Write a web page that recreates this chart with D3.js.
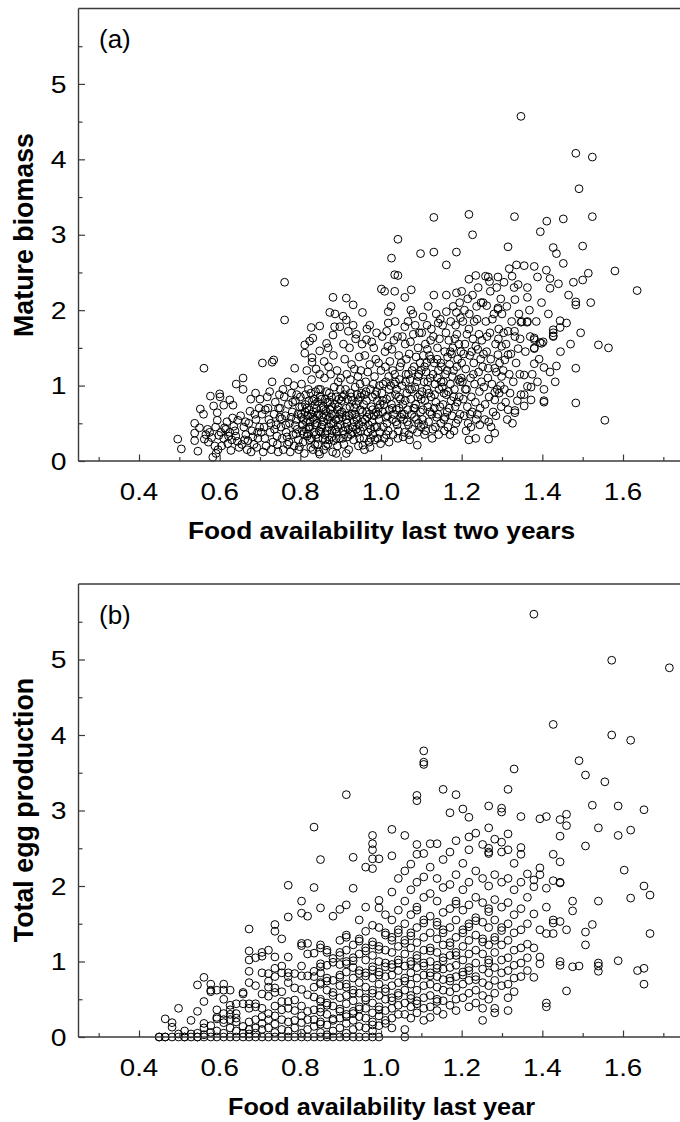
<!DOCTYPE html>
<html><head><meta charset="utf-8">
<script src="https://cdn.jsdelivr.net/npm/d3@7"></script>
<style>body{margin:0;background:#fff}svg{display:block}</style>
</head><body>
<svg id="chart" width="680" height="1122"></svg>
<script>
// ---------- DATA ----------
const xMajorTicks = [0.4, 0.6, 0.8, 1.0, 1.2, 1.4, 1.6];
const xMinorTicks = [0.3, 0.5, 0.7, 0.9, 1.1, 1.3, 1.5, 1.7];
const yMajorTicks = [0, 1, 2, 3, 4, 5];
const yMinorTicks = [0.5, 1.5, 2.5, 3.5, 4.5, 5.5];
const xDomain = [0.25, 1.75];
const yDomain = [0, 6];

const panelLabels = ["(a)", "(b)"];
const xTitles = ["Food availability last two years", "Food availability last year"];
const yTitles = ["Mature biomass", "Total egg production"];

// Panel (a): [food availability last two years, mature biomass]
const biomassPoints = [
[0.496,0.29],[0.505,0.16],[0.538,0.50],[0.538,0.37],[0.538,0.27],[0.546,0.13],[0.552,0.69],[0.550,0.44],[0.562,0.29],
[0.560,0.62],[0.561,1.23],[0.577,0.86],[0.583,0.05],[0.585,0.73],[0.594,0.64],[0.594,0.54],[0.570,0.42],[0.575,0.38],[0.580,0.31],[0.590,0.45],[0.588,0.20],[0.596,0.15],[0.566,0.35],[0.572,0.25],[0.598,0.34],[0.591,0.10],
[0.600,0.89],[0.601,0.85],[0.610,0.74],[0.625,0.81],[0.633,0.74],[0.641,1.02],[0.605,0.20],[0.610,0.30],[0.615,0.42],[0.620,0.23],[0.625,0.38],[0.630,0.28],[0.635,0.46],[0.640,0.33],[0.632,0.57],[0.645,0.54],[0.648,0.18],[0.603,0.38],[0.618,0.52],[0.628,0.14],[0.638,0.40],[0.644,0.26],[0.612,0.44],[0.622,0.33],
[0.658,1.10],[0.658,0.95],[0.689,0.90],[0.662,0.28],[0.670,0.27],[0.678,0.12],[0.652,0.60],[0.660,0.45],[0.665,0.35],[0.672,0.50],[0.675,0.66],[0.680,0.40],[0.685,0.22],[0.690,0.55],[0.695,0.30],[0.698,0.70],[0.655,0.22],[0.668,0.15],[0.682,0.32],[0.692,0.18],[0.699,0.45],[0.687,0.62],[0.677,0.82],[0.664,0.52],[0.694,0.38],
[0.706,1.30],[0.730,1.31],[0.734,1.34],[0.730,1.05],[0.700,0.82],[0.705,0.62],[0.710,0.45],[0.712,0.30],[0.715,0.20],[0.720,0.70],[0.722,0.55],[0.725,0.38],[0.728,0.15],[0.732,0.25],[0.735,0.62],[0.738,0.78],[0.740,0.48],[0.742,0.33],[0.745,0.12],[0.748,0.88],[0.703,0.38],[0.718,0.85],[0.727,0.50],[0.743,0.22],[0.708,0.12],[0.736,0.42],[0.749,0.58],[0.713,0.68],[0.724,0.92],[0.746,0.70],
[0.761,2.37],[0.761,1.87],[0.769,1.05],[0.786,1.23],[0.750,0.70],[0.752,0.45],[0.755,0.30],[0.758,0.15],[0.760,0.85],[0.763,0.60],[0.765,0.38],[0.768,0.22],[0.770,0.75],[0.773,0.50],[0.775,0.12],[0.778,0.90],[0.780,0.65],[0.782,0.35],[0.785,0.20],[0.788,0.80],[0.790,0.55],[0.792,0.42],[0.795,0.28],[0.798,0.72],[0.757,0.95],[0.767,0.32],[0.777,0.58],[0.787,0.47],[0.796,0.15],[0.784,1.00],[0.791,0.88],[0.798,0.19],[0.754,0.56],[0.772,0.25],[0.781,0.78],[0.794,0.62],[0.764,0.48],[0.789,0.36],
[0.811,1.43],[0.811,1.54],[0.823,1.59],[0.831,1.63],[0.827,1.77],[0.848,1.79],[0.848,1.46],[0.829,1.37],[0.829,1.31],[0.800,0.85],[0.802,0.62],[0.805,0.40],[0.807,0.25],[0.810,0.10],[0.812,0.75],[0.815,0.52],[0.817,0.33],[0.820,0.95],[0.822,0.68],[0.824,0.45],[0.826,0.18],[0.828,1.08],[0.830,0.80],[0.832,0.58],[0.834,0.38],[0.836,0.22],[0.838,0.92],[0.840,0.70],[0.842,0.50],[0.844,0.30],[0.846,0.12],[0.848,1.15],[0.849,0.85],[0.803,1.02],[0.813,0.88],[0.818,0.60],[0.823,0.28],[0.833,0.65],[0.837,0.48],[0.843,0.78],[0.847,0.40],[0.808,0.55],[0.839,1.22],[0.816,1.20],[0.826,0.90],[0.848,0.09],[0.804,0.72],[0.814,0.42],[0.821,0.80],[0.835,0.55],[0.841,0.60],[0.845,0.95],[0.819,0.36],[0.831,0.15],[0.806,0.48],[0.827,0.62],[0.843,0.22],[0.812,0.65],[0.836,0.75],[0.824,0.52],
[0.881,2.17],[0.873,1.97],[0.886,1.95],[0.881,1.67],[0.865,1.56],[0.898,1.78],[0.850,0.95],[0.852,0.70],[0.854,0.48],[0.856,0.30],[0.858,0.15],[0.860,1.10],[0.862,0.82],[0.864,0.60],[0.866,0.40],[0.868,0.22],[0.870,1.25],[0.872,0.90],[0.874,0.68],[0.876,0.50],[0.878,0.32],[0.880,0.12],[0.882,1.40],[0.884,0.98],[0.886,0.75],[0.888,0.55],[0.889,0.10],[0.890,0.38],[0.892,0.20],[0.894,1.05],[0.896,0.82],[0.898,0.62],[0.855,0.58],[0.861,0.35],[0.867,0.78],[0.871,0.45],[0.877,0.62],[0.883,0.27],[0.889,0.85],[0.893,0.45],[0.897,0.30],[0.859,1.32],[0.875,1.15],[0.891,1.20],[0.869,1.50],[0.885,1.78],[0.853,0.82],[0.857,0.52],[0.863,0.66],[0.873,0.58],[0.879,0.72],[0.887,0.42],[0.895,0.55],[0.851,0.38],[0.865,0.92],[0.882,0.50],[0.899,0.95],[0.871,0.28],[0.858,0.68],[0.892,0.68],[0.877,0.85],[0.863,0.20],
[0.914,2.16],[0.931,2.07],[0.906,1.92],[0.914,1.87],[0.931,1.80],[0.939,1.68],[0.914,0.10],[0.900,1.10],[0.902,0.80],[0.904,0.58],[0.906,0.40],[0.908,0.22],[0.910,1.35],[0.912,0.95],[0.914,0.70],[0.916,0.50],[0.918,0.32],[0.920,0.15],[0.922,1.50],[0.924,1.08],[0.926,0.85],[0.928,0.62],[0.930,0.45],[0.932,0.28],[0.934,1.22],[0.936,0.98],[0.938,0.75],[0.940,0.55],[0.942,0.38],[0.944,0.20],[0.946,1.38],[0.948,1.02],[0.949,0.68],[0.903,0.65],[0.909,0.88],[0.915,1.15],[0.921,0.60],[0.925,0.35],[0.929,0.80],[0.933,0.52],[0.937,1.62],[0.941,0.88],[0.945,0.48],[0.947,0.30],[0.907,1.55],[0.919,1.72],[0.927,1.28],[0.943,1.12],[0.911,0.45],[0.923,0.72],[0.935,0.62],[0.939,0.42],[0.905,0.30],[0.917,0.82],[0.949,0.85],[0.913,0.60],
[0.954,1.97],[0.972,1.80],[0.964,1.61],[0.955,0.21],[0.999,0.23],[0.950,1.20],[0.952,0.90],[0.954,0.65],[0.956,0.45],[0.958,0.30],[0.960,1.40],[0.962,1.05],[0.964,0.80],[0.966,0.58],[0.968,0.38],[0.970,0.25],[0.972,1.28],[0.974,0.95],[0.976,0.72],[0.978,0.52],[0.980,0.35],[0.982,1.50],[0.984,1.12],[0.986,0.88],[0.988,0.65],[0.990,0.45],[0.992,0.30],[0.994,1.30],[0.996,1.00],[0.998,0.75],[0.957,0.75],[0.961,0.55],[0.967,1.18],[0.971,0.62],[0.975,0.42],[0.979,0.85],[0.983,0.60],[0.987,1.35],[0.991,0.80],[0.995,0.55],[0.997,0.38],[0.953,1.55],[0.965,1.75],[0.977,1.58],[0.989,1.70],[0.959,0.15],[0.973,0.18],[0.985,0.28],[0.963,0.92],[0.981,1.02],[0.993,0.62],
[1.001,2.28],[1.009,2.25],[1.034,2.47],[1.042,2.46],[1.026,2.69],[1.042,2.94],[1.034,2.25],[1.018,1.98],[1.018,1.83],[1.014,1.72],[1.000,1.20],[1.002,0.90],[1.004,0.65],[1.006,0.45],[1.008,0.30],[1.010,1.45],[1.012,1.05],[1.014,0.82],[1.016,0.60],[1.018,0.40],[1.020,0.25],[1.022,1.32],[1.024,1.00],[1.026,0.75],[1.028,0.55],[1.030,0.35],[1.032,1.60],[1.034,1.15],[1.036,0.88],[1.038,0.68],[1.040,0.48],[1.042,0.30],[1.044,1.40],[1.046,1.08],[1.048,0.82],[1.049,0.58],[1.003,1.65],[1.007,0.75],[1.011,1.25],[1.015,0.50],[1.019,1.12],[1.023,0.85],[1.027,1.48],[1.031,0.62],[1.035,1.85],[1.039,0.95],[1.043,0.40],[1.047,1.25],[1.005,1.02],[1.021,0.68],[1.029,1.20],[1.037,0.52],[1.045,0.70],[1.013,0.35],[1.041,1.65],[1.025,2.05],[1.033,1.02],[1.017,1.52],
[1.059,2.17],[1.075,2.27],[1.059,1.78],[1.074,2.00],[1.098,2.75],[1.071,0.28],[1.090,0.21],[1.050,1.30],[1.052,1.00],[1.054,0.75],[1.056,0.55],[1.058,0.38],[1.060,1.55],[1.062,1.15],[1.064,0.90],[1.066,0.68],[1.068,0.48],[1.070,1.42],[1.072,1.08],[1.074,0.82],[1.076,0.62],[1.078,0.42],[1.080,1.68],[1.082,1.25],[1.084,0.98],[1.086,0.75],[1.088,0.55],[1.090,0.38],[1.092,1.50],[1.094,1.15],[1.096,0.88],[1.098,0.65],[1.053,1.65],[1.057,0.62],[1.063,1.35],[1.067,1.85],[1.071,0.95],[1.077,1.20],[1.081,0.70],[1.085,1.80],[1.089,1.05],[1.093,0.50],[1.097,1.30],[1.055,0.32],[1.065,0.52],[1.079,1.95],[1.087,1.38],[1.099,0.45],[1.061,1.05],[1.073,1.58],[1.083,0.58],[1.091,0.85],[1.069,0.35],[1.095,1.70],
[1.131,3.23],[1.131,2.77],[1.104,1.91],[1.114,1.80],[1.131,2.20],[1.142,1.83],[1.100,1.20],[1.102,0.92],[1.104,0.68],[1.106,0.48],[1.108,0.35],[1.110,1.55],[1.112,1.18],[1.114,0.95],[1.116,0.72],[1.118,0.52],[1.120,1.40],[1.122,1.10],[1.124,0.85],[1.126,0.62],[1.128,0.42],[1.130,1.65],[1.132,1.30],[1.134,1.02],[1.136,0.78],[1.138,0.58],[1.140,1.50],[1.142,1.20],[1.144,0.95],[1.146,0.72],[1.148,0.50],[1.105,1.40],[1.109,0.80],[1.113,1.30],[1.117,2.05],[1.121,0.65],[1.125,1.75],[1.129,1.15],[1.133,0.88],[1.137,1.95],[1.141,0.62],[1.145,1.62],[1.149,1.05],[1.103,0.55],[1.111,0.40],[1.119,0.90],[1.127,0.30],[1.135,0.45],[1.143,0.35],[1.107,1.05],[1.115,1.48],[1.123,1.60],[1.139,1.35],[1.147,1.88],[1.101,1.70],
[1.162,2.20],[1.162,1.98],[1.187,1.97],[1.187,2.23],[1.187,2.77],[1.162,2.60],[1.150,1.25],[1.152,0.98],[1.154,0.75],[1.156,0.55],[1.158,1.45],[1.160,1.15],[1.162,0.88],[1.164,0.65],[1.166,0.45],[1.168,1.60],[1.170,1.28],[1.172,1.02],[1.174,0.80],[1.176,0.60],[1.178,1.50],[1.180,1.20],[1.182,0.95],[1.184,0.72],[1.186,0.50],[1.188,1.68],[1.190,1.35],[1.192,1.08],[1.194,0.85],[1.196,0.62],[1.198,1.45],[1.153,1.80],[1.157,0.40],[1.161,1.70],[1.165,1.38],[1.169,0.70],[1.173,1.85],[1.177,1.12],[1.181,0.40],[1.185,1.80],[1.189,0.78],[1.193,1.55],[1.197,1.90],[1.155,1.05],[1.167,0.92],[1.175,1.42],[1.183,1.62],[1.191,0.55],[1.199,1.10],[1.159,0.58],[1.171,0.35],[1.179,2.05],[1.195,2.10],
[1.200,2.25],[1.218,3.27],[1.227,3.00],[1.218,2.41],[1.235,2.46],[1.218,0.28],[1.235,0.30],[1.200,1.30],[1.202,1.05],[1.204,0.82],[1.206,0.60],[1.208,1.55],[1.210,1.22],[1.212,0.95],[1.214,0.72],[1.216,0.50],[1.218,1.75],[1.220,1.40],[1.222,1.10],[1.224,0.85],[1.226,0.65],[1.228,1.62],[1.230,1.30],[1.232,1.02],[1.234,0.78],[1.236,0.55],[1.238,1.88],[1.240,1.48],[1.242,1.18],[1.244,0.92],[1.246,0.70],[1.248,2.10],[1.203,1.85],[1.207,2.00],[1.211,0.40],[1.215,2.15],[1.219,1.95],[1.223,0.45],[1.227,2.20],[1.231,1.85],[1.235,1.52],[1.239,0.62],[1.243,1.68],[1.247,1.35],[1.205,1.42],[1.213,1.68],[1.221,0.62],[1.229,1.15],[1.237,2.05],[1.245,0.48],[1.209,0.95],[1.225,1.45],[1.241,2.30],[1.249,1.05],
[1.262,2.06],[1.253,2.10],[1.266,2.44],[1.290,2.44],[1.290,2.03],[1.290,2.01],[1.299,1.52],[1.290,1.41],[1.299,1.12],[1.282,1.23],[1.266,1.23],[1.282,0.91],[1.282,0.81],[1.267,0.52],[1.282,0.37],[1.267,0.29],[1.250,1.60],[1.252,1.25],[1.255,0.98],[1.258,0.75],[1.260,1.85],[1.262,1.45],[1.265,1.10],[1.268,0.85],[1.270,1.70],[1.272,1.35],[1.275,1.02],[1.278,0.65],[1.280,1.95],[1.284,1.55],[1.286,1.18],[1.288,0.95],[1.292,1.75],[1.294,1.30],[1.296,1.00],[1.298,0.72],[1.257,0.55],[1.263,1.65],[1.271,2.25],[1.276,1.88],[1.285,0.60],[1.291,1.62],[1.297,2.15],[1.254,1.42],[1.273,0.45],[1.287,2.30],[1.293,0.90],[1.269,2.38],[1.259,2.45],
[1.315,2.84],[1.331,3.24],[1.305,2.37],[1.330,2.30],[1.340,2.34],[1.332,2.14],[1.324,1.85],[1.349,1.85],[1.347,1.84],[1.315,1.72],[1.332,1.65],[1.340,1.49],[1.315,1.41],[1.307,1.34],[1.347,0.88],[1.332,0.67],[1.332,0.64],[1.315,0.68],[1.331,1.72],[1.300,1.95],[1.303,1.20],[1.306,0.95],[1.310,1.55],[1.312,2.05],[1.318,1.15],[1.320,0.90],[1.322,1.42],[1.325,2.45],[1.328,1.05],[1.335,1.30],[1.338,0.80],[1.342,1.95],[1.344,1.15],[1.309,0.78],[1.318,2.55],[1.326,0.50],[1.336,2.60],[1.345,1.62],[1.304,1.70],[1.313,0.55],
[1.347,4.57],[1.355,2.59],[1.380,2.58],[1.388,2.44],[1.363,2.30],[1.363,2.17],[1.363,1.85],[1.380,1.61],[1.398,1.56],[1.380,1.49],[1.380,1.29],[1.355,1.14],[1.363,0.99],[1.372,0.81],[1.355,0.73],[1.380,1.63],[1.380,1.50],[1.395,3.04],[1.394,1.57],[1.362,1.84],[1.372,0.98],[1.355,0.88],[1.368,2.00],[1.375,1.15],[1.385,1.85],[1.392,1.35],[1.358,1.45],[1.370,1.65],[1.388,1.05],[1.398,2.10],
[1.411,3.18],[1.404,1.24],[1.419,1.18],[1.435,1.26],[1.404,0.95],[1.404,0.80],[1.404,0.78],[1.410,2.53],[1.419,2.42],[1.419,2.29],[1.427,2.83],[1.435,2.75],[1.427,1.65],[1.427,1.70],[1.444,1.77],[1.444,1.86],[1.402,1.58],[1.427,1.74],[1.427,1.66],[1.452,3.21],[1.452,2.62],[1.440,2.35],[1.415,1.95],[1.445,1.45],[1.432,1.05],
[1.460,1.83],[1.483,4.08],[1.491,3.61],[1.483,1.23],[1.483,0.77],[1.483,2.11],[1.483,2.07],[1.500,2.85],[1.500,2.40],[1.477,2.37],[1.465,2.20],[1.470,1.55],[1.495,1.70],
[1.524,4.03],[1.524,3.24],[1.514,2.49],[1.580,2.52],[1.635,2.26],[1.539,1.54],[1.564,1.50],[1.555,0.54],[1.520,2.10],
[0.803,0.58],[0.809,0.36],[0.816,0.70],[0.821,0.45],[0.828,0.30],[0.834,0.82],[0.839,0.35],[0.845,0.62],[0.852,0.45],[0.857,0.72],[0.862,0.28],[0.868,0.55],[0.873,0.78],[0.879,0.40],[0.884,0.62],[0.889,0.30],[0.894,0.72],[0.899,0.48],[0.904,0.85],[0.909,0.35],[0.914,0.55],[0.919,0.42],[0.924,0.90],[0.929,0.38],[0.934,0.70],[0.939,0.58],[0.944,0.80],[0.949,0.40],[0.954,0.52],[0.959,0.88],[0.964,0.65],[0.969,0.48],[0.974,0.30],[0.979,0.68],[0.984,0.45],[0.989,0.92],[0.994,0.70],[1.004,0.80],[1.012,0.58],[1.020,0.95],[1.028,0.70],[1.036,1.05],[1.044,0.85],[1.052,0.62],[1.060,0.80],[1.068,1.15],[1.076,0.95],[1.084,0.70],[1.092,1.12],[1.100,0.82],[1.108,1.25],[1.116,1.05],[1.124,1.35],[1.132,0.70],[1.140,1.10],[1.148,1.30],[1.156,0.90],[1.164,1.20],[1.172,1.45],[1.180,0.85],[1.188,1.25],[1.196,1.05]
];

// Panel (b): food availability last year takes discrete values (columns)
const foodLastYear = [0.450,0.465,0.482,0.498,0.513,0.529,0.545,0.561,0.578,0.593,0.610,0.626,0.641,0.658,0.673,0.689,0.705,0.721,0.737,0.754,0.770,0.786,0.803,0.818,0.834,0.850,0.866,0.881,0.898,0.914,0.931,0.946,0.962,0.979,0.995,1.011,1.027,1.043,1.059,1.074,1.089,1.106,1.122,1.139,1.154,1.171,1.186,1.203,1.218,1.235,1.252,1.267,1.282,1.299,1.315,1.330,1.347,1.363,1.379,1.394,1.410,1.427,1.444,1.460,1.475,1.491,1.507,1.524,1.539,1.555,1.572,1.588,1.603,1.619,1.636,1.652,1.667,1.715];
const eggProduction = [
[0,0],
[0.24,0,0],
[0.19,0.13,0],
[0.38,0,0.04],
[0.08,0,0],
[0.22,0.04,0],
[0.69,0.34,0.05,0,0],
[0.79,0.47,0.18,0.12,0.03,0],
[0.70,0.62,0.60,0.15,0.06,0],
[0.62,0.36,0.26,0.24,0.08,0],
[0.70,0.62,0.50,0.31,0.23,0.19,0.05,0],
[0.62,0.42,0.36,0.30,0.23,0.12,0],
[0.44,0.31,0.25,0.20,0.08,0],
[0.59,0.57,0.44,0.14,0.05,0],
[1.43,1.14,1.02,0.87,0.72,0.44,0.38,0.20,0.10,0.04,0],
[1.05,0.68,0.44,0.40,0.23,0.12,0.05,0],
[1.12,1.07,0.85,0.57,0.38,0.27,0.18,0.10,0],
[1.15,0.84,0.74,0.66,0.54,0.31,0.23,0.12,0],
[1.49,1.40,1.06,0.91,0.80,0.65,0.59,0.41,0.28,0.17,0.06,0],
[1.30,0.94,0.85,0.60,0.47,0.36,0.23,0.10,0],
[2.01,1.59,1.06,0.85,0.80,0.72,0.47,0.38,0.20,0.08,0],
[0.84,0.65,0.49,0.35,0.22,0.12,0],
[1.80,1.64,1.24,1.21,0.94,0.81,0.63,0.41,0.28,0.19,0.05,0],
[1.60,1.24,1.10,0.81,0.56,0.34,0.23,0.10,0],
[2.78,1.98,1.11,0.87,0.80,0.66,0.53,0.36,0.23,0.14,0],
[2.35,1.71,1.22,1.18,0.97,0.93,0.85,0.72,0.70,0.50,0.47,0.38,0.33,0.20,0.17,0.06,0],
[1.15,1.12,0.95,0.78,0.74,0.62,0.45,0.42,0.30,0.16,0.03,0],
[1.60,1.04,0.99,0.75,0.59,0.55,0.41,0.24,0.22,0.08,0],
[1.69,1.28,1.12,1.08,0.96,0.82,0.79,0.68,0.52,0.37,0.34,0.25,0.12,0],
[3.21,1.75,1.35,1.32,1.15,1.00,0.97,0.86,0.70,0.66,0.55,0.44,0.30,0.27,0.18,0.05,0],
[2.38,1.97,1.22,1.05,1.01,0.92,0.78,0.62,0.58,0.48,0.34,0.31,0.22,0.10,0],
[1.55,1.30,1.27,1.10,0.88,0.84,0.72,0.58,0.40,0.37,0.27,0.14,0],
[2.25,1.72,1.40,1.18,1.14,1.02,0.85,0.81,0.66,0.52,0.49,0.38,0.25,0.12,0],
[2.67,2.56,2.48,2.36,2.23,1.48,1.26,1.22,1.08,0.93,0.89,0.78,0.62,0.58,0.45,0.32,0.20,0.16,0.08,0],
[2.36,1.81,1.71,1.45,1.20,1.16,1.00,0.86,0.82,0.70,0.55,0.40,0.36,0.28,0.15,0],
[1.62,1.38,1.35,1.15,0.98,0.93,0.80,0.64,0.60,0.50,0.35,0.22,0.18],
[2.75,2.40,1.92,1.55,1.32,1.28,1.12,0.96,0.92,0.82,0.68,0.52,0.48,0.38,0.25,0.12],
[2.10,1.68,1.42,1.38,1.20,1.02,0.98,0.88,0.72,0.58,0.55,0.42,0.30],
[2.67,2.20,1.80,1.50,1.28,1.24,1.10,0.94,0.78,0.74,0.62,0.45,0.30,0.10,0],
[2.29,1.95,1.62,1.38,1.34,1.18,1.00,0.96,0.85,0.70,0.55,0.51,0.40,0.25],
[3.20,3.13,2.55,2.42,2.05,1.72,1.68,1.45,1.25,1.08,1.04,0.92,0.78,0.62,0.48,0.44,0.32],
[3.79,3.64,3.61,2.43,2.12,1.85,1.55,1.51,1.32,1.15,0.98,0.94,0.82,0.68,0.52,0.38,0.22],
[2.56,2.25,1.90,1.60,1.38,1.18,1.14,1.00,0.85,0.81,0.70,0.55,0.40,0.26],
[2.56,2.10,1.80,1.52,1.48,1.30,1.12,0.95,0.91,0.80,0.66,0.50,0.47,0.35],
[3.28,2.35,1.98,1.65,1.42,1.38,1.22,1.05,1.01,0.90,0.76,0.62,0.48,0.30],
[2.97,2.45,2.02,1.70,1.45,1.25,1.21,1.08,0.92,0.78,0.74,0.60,0.42],
[3.21,2.60,2.15,1.80,1.76,1.55,1.32,1.12,1.08,0.95,0.80,0.65,0.50,0.35],
[3.02,2.30,1.95,1.68,1.42,1.38,1.20,1.02,0.86,0.82,0.70,0.52],
[2.91,2.65,2.48,2.05,1.75,1.50,1.46,1.28,1.10,0.92,0.88,0.75,0.58,0.40],
[2.70,2.20,1.85,1.58,1.54,1.35,1.15,0.98,0.80,0.76,0.62,0.45],
[2.55,2.10,1.78,1.52,1.30,1.26,1.10,0.90,0.72,0.55,0.38,0.22],
[3.06,2.77,2.50,2.45,2.43,2.00,1.70,1.66,1.45,1.22,1.02,0.98,0.85,0.68,0.50],
[2.62,2.15,1.82,1.55,1.32,1.28,1.12,0.92,0.75,0.58,0.38,0.32],
[3.03,2.98,2.58,2.45,2.05,1.72,1.45,1.41,1.22,1.02,0.85,0.68],
[3.28,2.69,2.48,2.10,1.78,1.50,1.28,1.05,0.88,0.70,0.52,0.35],
[3.55,2.30,1.95,1.62,1.38,1.15,0.95,0.78,0.60],
[2.92,2.51,2.42,2.05,1.70,1.42,1.18,0.98,0.80],
[2.16,1.85,1.50,1.23,1.05,0.88],
[5.60,2.08,1.99,1.63,1.18,0.79],
[2.89,2.24,2.15,1.42,1.06,0.97],
[2.92,1.97,1.72,1.37,0.45,0.40],
[4.14,2.42,2.07,1.55,1.51,1.37],
[2.88,2.66,2.32,2.05,2.04,1.53,1.00,0.95],
[2.95,2.80,1.42,0.61],
[1.80,1.67,0.93],
[3.66,0.94],
[3.47,2.53,1.39,1.22],
[3.07,1.49],
[2.77,1.80,0.98,0.94,0.87],
[3.38],
[4.99,4.00],
[3.06,2.67,1.01],
[2.21],
[3.93,2.74,1.84],
[0.88],
[3.01,2.00,0.91,0.70],
[1.88,1.37],
[4.89]
];
const eggPoints = foodLastYear.flatMap((fx, i) => eggProduction[i].map(v => [fx, v]));

// ---------- DRAW ----------
const svg = d3.select("#chart");
const FONT = "'Liberation Sans', Arial, Helvetica, sans-serif";
const AX = "#3a3a3a";

function drawPanel(p) {
  const x = d3.scaleLinear().domain(xDomain).range([78.5, 683.5]);
  const y = d3.scaleLinear().domain(yDomain).range([p.bottom, p.top]);
  const g = svg.append("g");

  g.append("g").selectAll("circle").data(p.points).join("circle")
    .attr("cx", d => x(d[0])).attr("cy", d => y(d[1])).attr("r", 3.9)
    .attr("fill", "none").attr("stroke", "#000").attr("stroke-width", 1);

  const clean = sel => {
    sel.select(".domain").remove();
    sel.selectAll("line").attr("stroke", AX).attr("stroke-width", 1.2);
    sel.selectAll("text").remove();
  };
  g.append("g").attr("transform", `translate(0,${p.bottom})`)
    .call(d3.axisBottom(x).tickValues(xMajorTicks).tickSize(-6.5)).call(clean);
  g.append("g").attr("transform", `translate(0,${p.bottom})`)
    .call(d3.axisBottom(x).tickValues(xMinorTicks).tickSize(-4)).call(clean);
  g.append("g").attr("transform", `translate(78.5,0)`)
    .call(d3.axisLeft(y).tickValues(yMajorTicks).tickSize(-6.5)).call(clean);
  g.append("g").attr("transform", `translate(78.5,0)`)
    .call(d3.axisLeft(y).tickValues(yMinorTicks).tickSize(-4)).call(clean);

  const fr = g.append("g").attr("stroke", AX).attr("stroke-width", 1.4).attr("fill", "none");
  fr.append("line").attr("x1", 78.5).attr("x2", 78.5).attr("y1", p.top).attr("y2", p.bottom);
  fr.append("line").attr("x1", 78.5).attr("x2", 680).attr("y1", p.bottom).attr("y2", p.bottom);
  fr.append("line").attr("x1", 78.5).attr("x2", 680).attr("y1", p.top).attr("y2", p.top);

  g.append("g").selectAll("text").data(xMajorTicks).join("text")
    .attr("transform", d => `translate(${x(d)},${p.bottom + 39}) scale(1.18,1)`)
    .attr("text-anchor", "middle").attr("font-family", FONT).attr("font-size", 23.5)
    .attr("fill", "#000").text(d => d3.format(".1f")(d));
  g.append("g").selectAll("text").data(yMajorTicks).join("text")
    .attr("transform", d => `translate(66.5,${y(d) + 8.6}) scale(1.18,1)`)
    .attr("text-anchor", "end").attr("font-family", FONT).attr("font-size", 24)
    .attr("fill", "#000").text(d => d3.format("d")(d));

  g.append("text").attr("x", 99).attr("y", p.top + 39.5)
    .attr("font-family", FONT).attr("font-size", 26).attr("fill", "#000").text(p.tag);

  g.append("text")
    .attr("transform", `translate(381.5,${p.bottom + 78}) scale(1.06,1)`)
    .attr("text-anchor", "middle").attr("font-family", FONT).attr("font-weight", "bold")
    .attr("font-size", p.xTitleSize).attr("fill", "#000").text(p.xTitle);
  g.append("text")
    .attr("transform", `translate(33.3,${p.yTitleCenter}) rotate(-90)`)
    .attr("text-anchor", "middle").attr("font-family", FONT).attr("font-weight", "bold")
    .attr("font-size", 26.8).attr("fill", "#000").text(p.yTitle);
}

drawPanel({ top: 8.5, bottom: 461, points: biomassPoints, tag: panelLabels[0],
  xTitle: xTitles[0], yTitle: yTitles[0], xTitleSize: 24.8, yTitleCenter: 235 });
drawPanel({ top: 584, bottom: 1037, points: eggPoints, tag: panelLabels[1],
  xTitle: xTitles[1], yTitle: yTitles[1], xTitleSize: 23.8, yTitleCenter: 810 });
</script>
</body></html>
